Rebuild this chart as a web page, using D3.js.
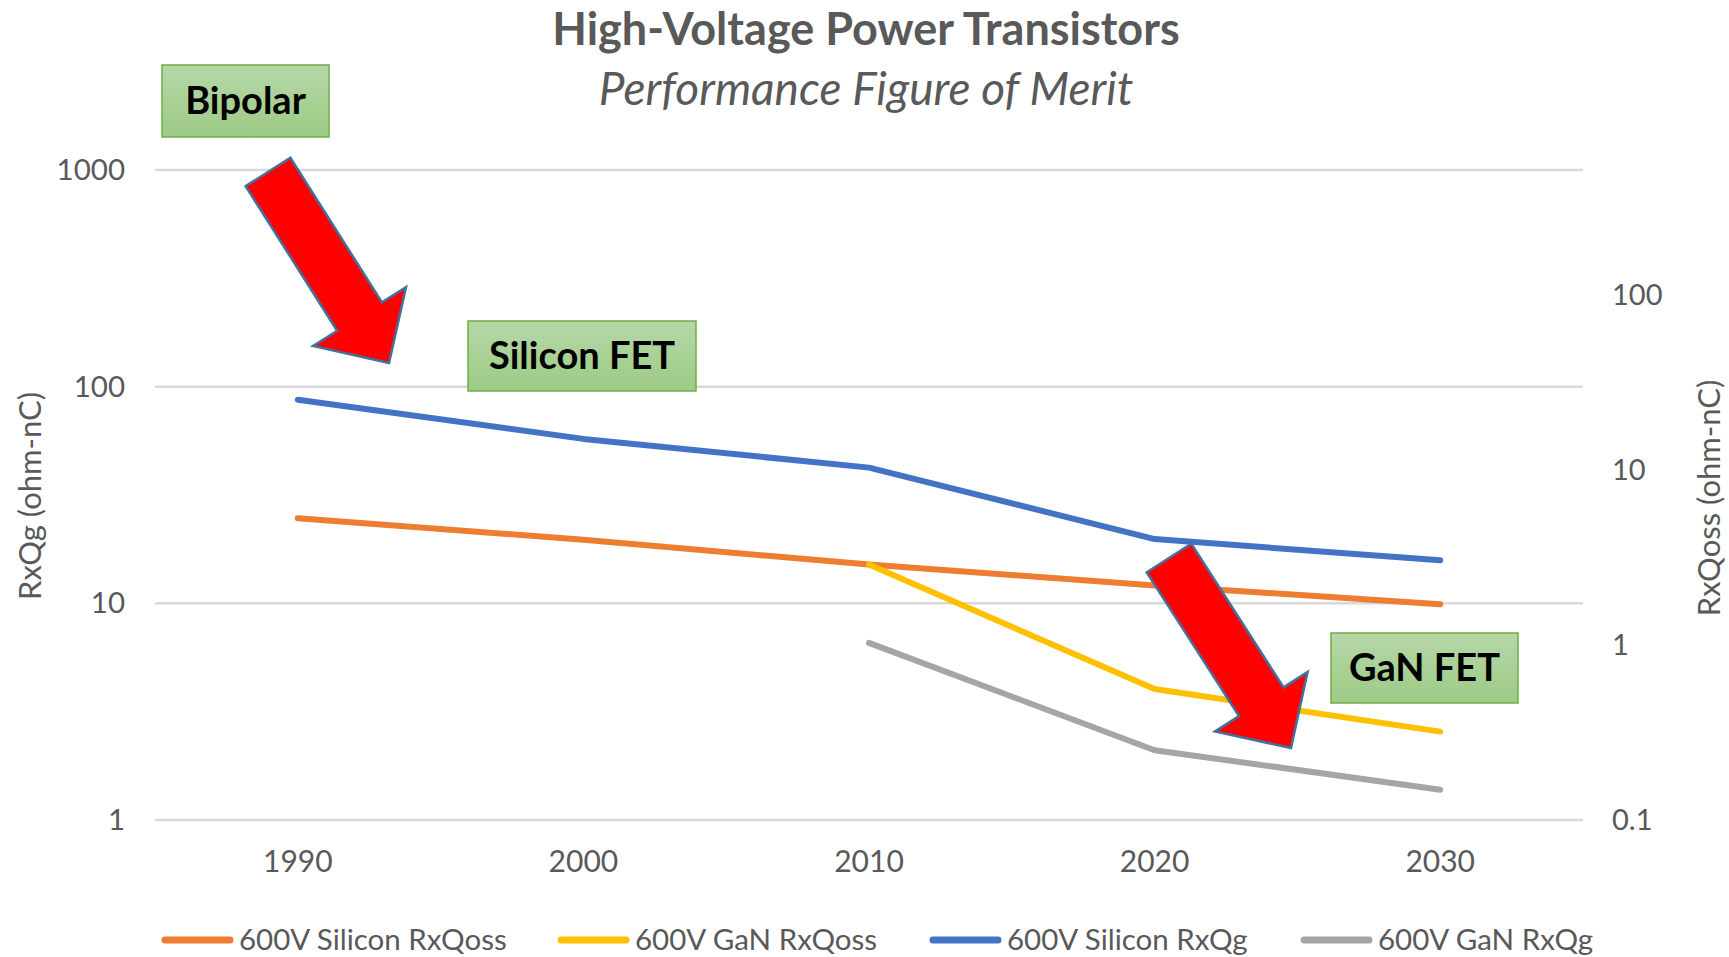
<!DOCTYPE html>
<html>
<head>
<meta charset="utf-8">
<script src="https://cdn.jsdelivr.net/npm/d3@7"></script>
<style>
  body { margin: 0; background: #fff; }
  text { font-family: Lato, "Open Sans", sans-serif; }
</style>
</head>
<body>
<div id="main"></div>
<script>
// data
const years = ["1990", "2000", "2010", "2020", "2030"];
const siliconQoss = [5.3, 4.0, 2.88, 2.19, 1.71];   // right axis
const ganQoss = [null, null, 2.88, 0.56, 0.32];      // right axis
const siliconQg = [87, 57.4, 42.3, 19.8, 15.8];      // left axis
const ganQg = [null, null, 6.57, 2.1, 1.38];         // left axis
const leftTicks = [1, 10, 100, 1000];
const rightTicks = [0.1, 1, 10, 100];

const series = [
  {name: "600V Silicon RxQoss", values: siliconQoss, axis: "right", color: "#ed7d31"},
  {name: "600V GaN RxQoss", values: ganQoss, axis: "right", color: "#ffc000"},
  {name: "600V Silicon RxQg", values: siliconQg, axis: "left", color: "#4472c4"},
  {name: "600V GaN RxQg", values: ganQg, axis: "left", color: "#a5a5a5"}
];

const W = 1729, H = 957;
const plot = {left: 155, right: 1583, top: 170, bottom: 820};

const svg = d3.select("#main")
  .append("svg")
    .attr("width", W)
    .attr("height", H);

const x = d3.scaleBand().domain(years).range([plot.left, plot.right]);
const xc = d => x(d) + x.bandwidth() / 2;

const y = d3.scaleLog().domain([1, 1000]).range([plot.bottom, plot.top]);
// secondary axis: 0.1 .. 100 spans bottom up to 295
const y2 = d3.scaleLog().domain([0.1, 100]).range([plot.bottom, 295]);

// gridlines (left axis only)
svg.append("g")
  .selectAll("line")
  .data(leftTicks)
  .join("line")
    .attr("x1", plot.left).attr("x2", plot.right)
    .attr("y1", d => y(d)).attr("y2", d => y(d))
    .attr("stroke", "#d9d9d9")
    .attr("stroke-width", 2.5);

// left axis
const yAxis = d3.axisLeft(y).tickValues(leftTicks).tickFormat(d3.format("d")).tickSize(0).tickPadding(30);
svg.append("g")
  .attr("transform", `translate(${plot.left},0)`)
  .call(yAxis)
  .call(g => g.select(".domain").remove())
  .selectAll("text")
    .attr("font-size", 29.5).attr("fill", "#595959")
    .attr("font-family", "'Noto Sans', sans-serif");

// right axis
const y2Axis = d3.axisRight(y2).tickValues(rightTicks).tickFormat(d => d < 1 ? d3.format(".1f")(d) : d3.format("d")(d)).tickSize(0).tickPadding(29);
svg.append("g")
  .attr("transform", `translate(${plot.right},0)`)
  .call(y2Axis)
  .call(g => g.select(".domain").remove())
  .selectAll("text")
    .attr("font-size", 29).attr("fill", "#595959")
    .attr("font-family", "'Noto Sans', sans-serif");

// x axis
const xAxis = d3.axisBottom(x).tickSize(0).tickPadding(31);
svg.append("g")
  .attr("transform", `translate(0,${plot.bottom})`)
  .call(xAxis)
  .call(g => g.select(".domain").remove())
  .selectAll("text")
    .attr("font-size", 30).attr("fill", "#595959")
    .attr("font-family", "'Noto Sans', sans-serif");

// lines
series.forEach(s => {
  const sc = s.axis === "left" ? y : y2;
  const pts = years.map((yr, i) => ({yr, v: s.values[i]}));
  const line = d3.line()
    .defined(d => d.v != null)
    .x(d => xc(d.yr))
    .y(d => sc(d.v));
  svg.append("path")
    .datum(pts)
    .attr("d", line)
    .attr("fill", "none")
    .attr("stroke", s.color)
    .attr("stroke-width", 6)
    .attr("stroke-linecap", "round")
    .attr("stroke-linejoin", "round");
});

// titles
svg.append("text")
  .attr("x", 866).attr("y", 45)
  .attr("text-anchor", "middle")
  .attr("font-size", 45).attr("font-weight", "bold")
  .attr("fill", "#595959")
  .text("High-Voltage Power Transistors");

svg.append("text")
  .attr("x", 866).attr("y", 105)
  .attr("text-anchor", "middle")
  .attr("font-size", 46).attr("font-style", "italic")
  .attr("fill", "#595959")
  .text("Performance Figure of Merit");

// axis titles
svg.append("text")
  .attr("transform", "translate(41,496) rotate(-90)")
  .attr("text-anchor", "middle")
  .attr("font-size", 31).attr("fill", "#595959")
  .text("RxQg (ohm-nC)");

svg.append("text")
  .attr("transform", "translate(1720,498) rotate(-90)")
  .attr("text-anchor", "middle")
  .attr("font-size", 31).attr("fill", "#595959")
  .text("RxQoss (ohm-nC)");

// legend
const legendX = [162, 558, 930, 1301];
const lg = svg.append("g")
  .selectAll("g")
  .data(series)
  .join("g")
    .attr("transform", (d, i) => `translate(${legendX[i]},940)`);
lg.append("line")
  .attr("x1", 3).attr("x2", 68)
  .attr("stroke", d => d.color)
  .attr("stroke-width", 7)
  .attr("stroke-linecap", "round");
lg.append("text")
  .attr("x", 77).attr("y", 10)
  .attr("font-size", 29.5).attr("fill", "#595959")
  .text(d => d.name);

// green label boxes
const boxes = [
  {label: "Bipolar", x: 162, y: 65, w: 167, h: 72},
  {label: "Silicon FET", x: 468, y: 321, w: 228, h: 70},
  {label: "GaN FET", x: 1331, y: 633, w: 187, h: 70}
];

const defs = svg.append("defs");
const grad = defs.append("linearGradient")
  .attr("id", "boxGrad").attr("x1", 0).attr("x2", 0).attr("y1", 0).attr("y2", 1);
grad.append("stop").attr("offset", "0%").attr("stop-color", "#b6d7a8");
grad.append("stop").attr("offset", "100%").attr("stop-color", "#9dcb85");

// arrows: tail centre -> tip
const arrows = [
  {from: [268, 172], to: [389, 363]},
  {from: [1169, 558], to: [1291, 748]}
];
const shaftW = 53, headW = 110, headL = 55;

function arrowPath(a) {
  const [x0, y0] = a.from, [x1, y1] = a.to;
  const dx = x1 - x0, dy = y1 - y0;
  const len = Math.hypot(dx, dy);
  const ux = dx / len, uy = dy / len;
  const nx = -uy, ny = ux;
  const bx = x1 - ux * headL, by = y1 - uy * headL;
  const p = [
    [x0 + nx * shaftW / 2, y0 + ny * shaftW / 2],
    [bx + nx * shaftW / 2, by + ny * shaftW / 2],
    [bx + nx * headW / 2, by + ny * headW / 2],
    [x1, y1],
    [bx - nx * headW / 2, by - ny * headW / 2],
    [bx - nx * shaftW / 2, by - ny * shaftW / 2],
    [x0 - nx * shaftW / 2, y0 - ny * shaftW / 2]
  ];
  return "M" + p.map(q => q.join(",")).join("L") + "Z";
}

svg.append("g")
  .selectAll("path")
  .data(arrows)
  .join("path")
    .attr("d", arrowPath)
    .attr("fill", "#ff0000")
    .attr("stroke", "#41719c")
    .attr("stroke-width", 2.5)
    .attr("stroke-linejoin", "miter");

const bg = svg.append("g")
  .selectAll("g")
  .data(boxes)
  .join("g");
bg.append("rect")
  .attr("x", d => d.x).attr("y", d => d.y)
  .attr("width", d => d.w).attr("height", d => d.h)
  .attr("fill", "url(#boxGrad)")
  .attr("stroke", "#70ad47")
  .attr("stroke-width", 1.5);
bg.append("text")
  .attr("x", d => d.x + d.w / 2).attr("y", d => d.y + d.h / 2 + 13)
  .attr("text-anchor", "middle")
  .attr("font-size", 38).attr("font-weight", "bold")
  .attr("fill", "#000")
  .text(d => d.label);
</script>
</body>
</html>
